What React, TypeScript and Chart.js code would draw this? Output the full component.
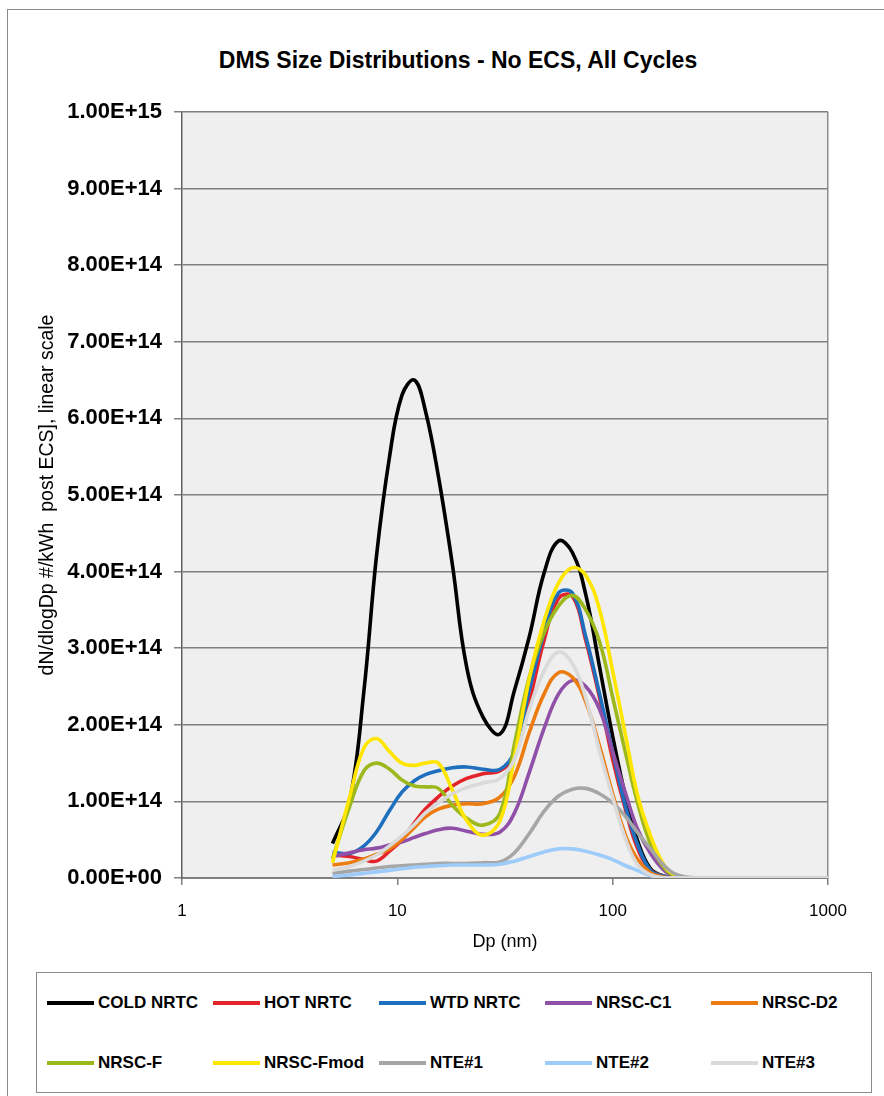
import React, { useEffect, useRef } from 'react';
import { Chart, registerables } from 'chart.js';

Chart.register(...registerables);

const FONT = '"Liberation Sans", Arial, sans-serif';
Chart.defaults.font.family = FONT;

const TITLE = 'DMS Size Distributions - No ECS, All Cycles';
const X_TITLE = 'Dp (nm)';
const Y_TITLE = 'dN/dlogDp #/kWh  post ECS], linear scale';

// particle diameters (nm)
const diameters = [5, 6, 7, 8, 9.2, 10.5, 12, 13.5, 15.5, 18, 21, 25, 30, 35, 41, 48, 56, 65, 75, 87, 100, 115, 130, 150, 175, 200, 250, 400, 1000];

const xTickValues = [1, 10, 100, 1000];
const Y_MIN = 0;
const Y_MAX = 1e15;
const Y_STEP = 1e14;
const UNIT = 1e14; // series values below are in units of 1E+14

const seriesNames = ['COLD NRTC', 'HOT NRTC', 'WTD NRTC', 'NRSC-C1', 'NRSC-D2', 'NRSC-F', 'NRSC-Fmod', 'NTE#1', 'NTE#2', 'NTE#3'];
const seriesColors = ['#000000', '#e3242b', '#1f6fbf', '#9150a8', '#ec7c10', '#9bb81c', '#ffe600', '#a6a6a6', '#9dcbfa', '#dadada'];

const coldNRTC = [0.45, 1.0, 2.45, 4.2, 5.5, 6.3, 6.5, 6.1, 5.25, 4.1, 2.75, 2.1, 1.88, 2.45, 3.15, 3.98, 4.4, 4.25, 3.7, 2.75, 1.85, 1.05, 0.5, 0.12, 0.02, 0, 0, 0, 0];
const hotNRTC = [0.3, 0.28, 0.24, 0.22, 0.35, 0.5, 0.72, 0.9, 1.06, 1.2, 1.3, 1.36, 1.4, 1.6, 2.3, 3.1, 3.65, 3.68, 3.1, 2.35, 1.55, 0.88, 0.4, 0.1, 0.02, 0, 0, 0, 0];
const wtdNRTC = [0.34, 0.32, 0.42, 0.6, 0.88, 1.12, 1.27, 1.35, 1.4, 1.44, 1.45, 1.42, 1.42, 1.65, 2.45, 3.2, 3.72, 3.72, 3.15, 2.4, 1.65, 0.92, 0.45, 0.1, 0.02, 0, 0, 0, 0];
const nrscC1 = [0.28, 0.33, 0.37, 0.39, 0.43, 0.47, 0.53, 0.58, 0.63, 0.65, 0.61, 0.57, 0.6, 0.85, 1.38, 1.95, 2.4, 2.58, 2.5, 2.2, 1.65, 1.1, 0.65, 0.32, 0.09, 0.01, 0, 0, 0];
const nrscD2 = [0.17, 0.2, 0.25, 0.31, 0.38, 0.5, 0.66, 0.8, 0.9, 0.95, 0.97, 0.97, 1.06, 1.33, 1.9, 2.4, 2.68, 2.62, 2.3, 1.72, 1.1, 0.55, 0.25, 0.07, 0.01, 0, 0, 0, 0];
const nrscF = [0.25, 0.93, 1.4, 1.5, 1.42, 1.28, 1.2, 1.19, 1.17, 0.95, 0.78, 0.69, 0.85, 1.75, 2.62, 3.2, 3.55, 3.69, 3.5, 3.08, 2.36, 1.62, 1.0, 0.44, 0.12, 0.02, 0, 0, 0];
const nrscFmod = [0.2, 1.05, 1.7, 1.82, 1.65, 1.5, 1.47, 1.5, 1.5, 1.15, 0.75, 0.56, 0.75, 1.58, 2.6, 3.35, 3.85, 4.05, 3.95, 3.5, 2.7, 1.85, 1.1, 0.55, 0.15, 0.03, 0, 0, 0];
const nte1 = [0.06, 0.09, 0.11, 0.13, 0.15, 0.16, 0.17, 0.18, 0.19, 0.19, 0.19, 0.2, 0.21, 0.33, 0.58, 0.87, 1.07, 1.16, 1.17, 1.1, 0.98, 0.8, 0.6, 0.38, 0.15, 0.04, 0, 0, 0];
const nte2 = [0.02, 0.04, 0.06, 0.08, 0.1, 0.12, 0.14, 0.15, 0.16, 0.17, 0.17, 0.17, 0.18, 0.22, 0.28, 0.34, 0.38, 0.38, 0.35, 0.3, 0.24, 0.16, 0.1, 0.03, 0, 0, 0, 0, 0];
const nte3 = [0.1, 0.15, 0.22, 0.3, 0.42, 0.55, 0.7, 0.85, 0.98, 1.1, 1.18, 1.24, 1.3, 1.55, 2.2, 2.7, 2.95, 2.8, 2.35, 1.65, 1.05, 0.5, 0.18, 0.04, 0, 0, 0, 0, 0];

const seriesValues = [coldNRTC, hotNRTC, wtdNRTC, nrscC1, nrscD2, nrscF, nrscFmod, nte1, nte2, nte3];

function formatSci(v: number | string): string {
  const n = Number(v);
  if (n === 0) return '0.00E+00';
  const [m, e] = n.toExponential(2).split('e');
  const ei = parseInt(e, 10);
  return `${m}E${ei < 0 ? '-' : '+'}${String(Math.abs(ei)).padStart(2, '0')}`;
}

const plotBackground = {
  id: 'plotBackground',
  beforeDraw(chart: any) {
    const { ctx, chartArea } = chart;
    if (!chartArea) return;
    ctx.save();
    ctx.fillStyle = '#efefef';
    ctx.fillRect(chartArea.left, chartArea.top, chartArea.right - chartArea.left, chartArea.bottom - chartArea.top);
    ctx.restore();
  },
};

export default function App() {
  const canvasRef = useRef<HTMLCanvasElement | null>(null);

  useEffect(() => {
    if (!canvasRef.current) return;
    const chart = new Chart(canvasRef.current, {
      type: 'line',
      data: {
        datasets: seriesNames.map((name, i) => ({
          label: name,
          data: diameters.map((d, j) => ({ x: d, y: seriesValues[i][j] * UNIT })),
          borderColor: seriesColors[i],
          backgroundColor: seriesColors[i],
          borderWidth: 3.6,
          pointRadius: 0,
          pointHoverRadius: 0,
          tension: 0.4,
          fill: false,
          order: seriesNames.length - i,
        })),
      },
      options: {
        responsive: false,
        maintainAspectRatio: false,
        animation: false,
        events: [],
        layout: { padding: { left: 0, right: 56, top: 112, bottom: 0 } },
        plugins: {
          legend: { display: false },
          title: { display: false },
          tooltip: { enabled: false },
        },
        scales: {
          x: {
            type: 'logarithmic',
            min: 1,
            max: 1000,
            afterBuildTicks: (s: any) => {
              s.ticks = xTickValues.map((v) => ({ value: v, major: true }));
            },
            afterFit: (s: any) => {
              s.height = 82;
            },
            ticks: {
              callback: (v: any) => String(v),
              font: { size: 17 },
              color: '#000',
              padding: 16,
              maxRotation: 0,
              autoSkip: false,
            },
            grid: {
              color: (ctx: any) => (ctx.tick && ctx.tick.value === 1000 ? '#8c8c8c' : 'rgba(0,0,0,0)'),
              tickColor: '#7f7f7f',
              tickLength: 7,
              lineWidth: 1.5,
            },
            border: { color: '#7f7f7f', width: 2 },
            title: {
              display: true,
              text: X_TITLE,
              font: { size: 18 },
              color: '#000',
              padding: { top: 0, bottom: 7 },
            },
          },
          y: {
            min: Y_MIN,
            max: Y_MAX,
            afterFit: (s: any) => {
              s.width = 182;
            },
            ticks: {
              stepSize: Y_STEP,
              callback: (v: any) => formatSci(v),
              font: { size: 22, weight: 'bold' },
              color: '#000',
              padding: 12,
            },
            grid: { color: '#808080', lineWidth: 1.5, tickLength: 8 },
            border: { color: '#606060', width: 1.5 },
            title: {
              display: true,
              text: Y_TITLE,
              font: { size: 19.5 },
              color: '#000',
              padding: { top: 36, bottom: 0 },
            },
          },
        },
      } as any,
      plugins: [plotBackground],
    });
    return () => chart.destroy();
  }, []);

  const rowCenters = [1003, 1063];

  return (
    <div style={{ position: 'absolute', left: 0, top: 0, width: 884, height: 1096, background: '#fff', overflow: 'hidden', fontFamily: FONT }}>
      <div style={{ position: 'absolute', left: 7, top: 9, width: 900, height: 1120, border: '1px solid #8a8a8a', boxSizing: 'border-box' }} />
      <div style={{ position: 'absolute', left: 0, top: 46, width: 916, textAlign: 'center', fontSize: 23, lineHeight: '28px', fontWeight: 'bold', color: '#000' }}>
        {TITLE}
      </div>
      <canvas ref={canvasRef} width={884} height={960} style={{ position: 'absolute', left: 0, top: 0, width: 884, height: 960 }} />
      <div style={{ position: 'absolute', left: 36, top: 972, width: 836, height: 121, border: '1.5px solid #8a8a8a', boxSizing: 'border-box' }} />
      {seriesNames.map((name, i) => {
        const row = Math.floor(i / 5);
        const col = i % 5;
        return (
          <div key={name} style={{ position: 'absolute', left: 47 + col * 166, top: rowCenters[row] - 12, height: 24, display: 'flex', alignItems: 'center', whiteSpace: 'nowrap' }}>
            <span style={{ display: 'inline-block', width: 47, height: 4, background: seriesColors[i], marginRight: 4 }} />
            <span style={{ fontSize: 17, fontWeight: 'bold', color: '#000' }}>{name}</span>
          </div>
        );
      })}
    </div>
  );
}
